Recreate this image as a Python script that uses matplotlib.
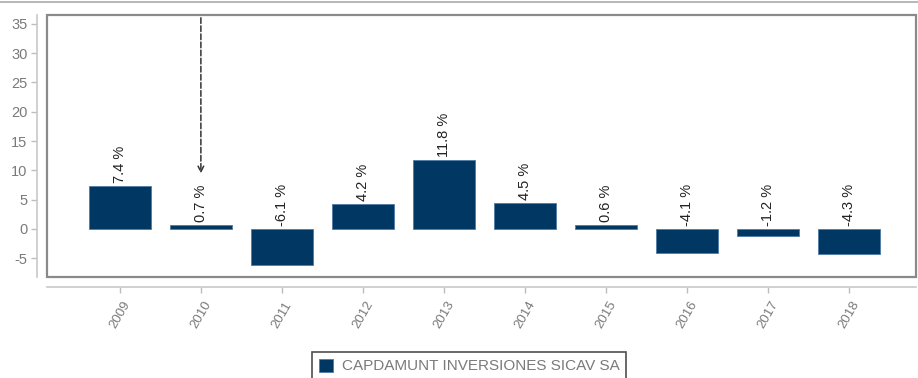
import matplotlib.pyplot as plt
from matplotlib.patches import Rectangle

plt.rcParams['font.family'] = ['Liberation Sans', 'DejaVu Sans']
plt.rcParams['axes.unicode_minus'] = False

years = ['2009', '2010', '2011', '2012', '2013', '2014', '2015', '2016', '2017', '2018']
returns = [7.4, 0.7, -6.1, 4.2, 11.8, 4.5, 0.6, -4.1, -1.2, -4.3]
fund_name = 'CAPDAMUNT INVERSIONES SICAV SA'
bar_color = '#003763'
grey = '#7a7a7a'

W, H = 918, 378
fig = plt.figure(figsize=(W / 100, H / 100), dpi=100)
ax = fig.add_axes([47 / W, (H - 277) / H, (916 - 47) / W, (277 - 15) / H])

x = list(range(len(years)))
ax.bar(x, returns, width=0.76, color=bar_color, edgecolor='#4f7aa3', linewidth=0.6,
       label=fund_name, zorder=2)

# value labels sit above the bar, or just above the zero line for losses
for xi, v in zip(x, returns):
    y = max(v, 0) + 0.5
    ax.text(xi, y, f'{v:.1f} %', rotation=90, ha='center', va='bottom',
            fontsize=10.5, color='#222222', zorder=3)

# dashed pointer to the 2010 value
ax.annotate('', xy=(1, 9.0), xytext=(1, 36.5),
            arrowprops=dict(arrowstyle='->', linestyle='--', color='#333333', lw=1.1))

ax.set_xlim(-0.9, 9.83)
ax.set_ylim(-8.2, 36.5)
ax.set_yticks(range(-5, 36, 5))
ax.set_xticks(x)
ax.set_xticklabels(years)

# box around the plotting area
ax.add_patch(Rectangle((0, 0), 1, 1, transform=ax.transAxes, fill=False,
                       edgecolor='#8a8a8a', linewidth=1.6, clip_on=False, zorder=4))
for s in ['top', 'right']:
    ax.spines[s].set_visible(False)
for s in ['left', 'bottom']:
    ax.spines[s].set_position(('outward', 7))
    ax.spines[s].set_color('#c8c8c8')
    ax.spines[s].set_linewidth(1.2)
ax.tick_params(axis='both', colors='#bdbdbd', length=4, width=1,
               labelcolor=grey, labelsize=10.5)
ax.tick_params(axis='x', labelrotation=60, labelsize=9.5, pad=5)
ax.tick_params(axis='y', pad=3)

# thin rule along the top of the figure
fig.add_artist(plt.Line2D([0, 1], [1 - 1.5 / H, 1 - 1.5 / H], color='#aaaaaa', lw=1.2))

leg = fig.legend(loc='upper center', bbox_to_anchor=(0.511, 1 - 352 / H), frameon=True,
                 fancybox=False, fontsize=11, handlelength=0.9, handleheight=0.9,
                 borderpad=0.45, handletextpad=0.6, borderaxespad=0)
leg.get_frame().set_edgecolor('#222222')
leg.get_frame().set_linewidth(1.2)
for t in leg.get_texts():
    t.set_color(grey)

fig.savefig('out.png', dpi=100)
